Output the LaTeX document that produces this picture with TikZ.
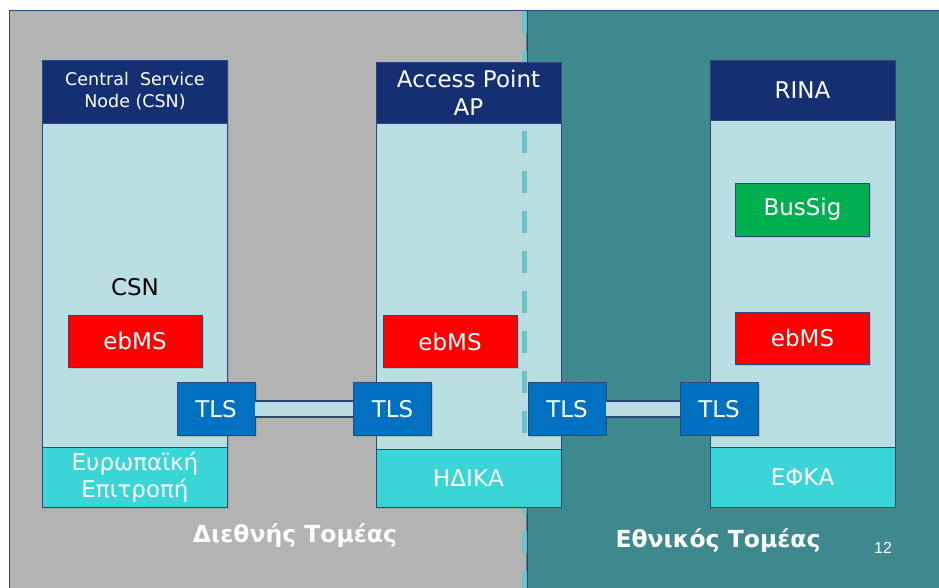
\documentclass[tikz,border=0pt]{standalone}
\usepackage{fontspec}
\setmainfont{DejaVu Sans}
\newfontfamily\numfont{Liberation Sans}
\usetikzlibrary{shadows}
\definecolor{bggray}{RGB}{179,179,179}
\definecolor{bgteal}{RGB}{62,137,142}
\definecolor{navy}{RGB}{20,48,115}
\definecolor{paleblue}{RGB}{185,223,227}
\definecolor{aqua}{RGB}{58,213,214}
\definecolor{tlsblue}{RGB}{0,112,192}
\definecolor{busgreen}{RGB}{0,176,80}
\definecolor{dashteal}{RGB}{108,196,200}
\definecolor{edge}{RGB}{47,70,125}

\begin{document}
\begin{tikzpicture}[x=1pt,y=-1pt]
\tikzset{box/.style={draw=edge,line width=0.9pt,inner sep=0pt,align=center,text=white,font=\fontsize{23}{27}\selectfont},
boxshadow/.style={drop shadow={shadow xshift=1.5pt,shadow yshift=-1.5pt,opacity=0.3}},
head/.style={box,fill=navy,boxshadow,minimum width=185pt},
body/.style={box,fill=paleblue,boxshadow,minimum width=185pt},
foot/.style={box,fill=aqua,boxshadow,minimum width=185pt},
proto/.style={box,boxshadow,minimum width=134pt,minimum height=52pt},
tlsbox/.style={box,fill=tlsblue,boxshadow,minimum width=78pt,minimum height=53pt},
link/.style={draw=edge,line width=1.3pt,double=paleblue,double distance=14.5pt},
sector/.style={text=white,font=\bfseries\fontsize{23.5}{27}\selectfont}}
\useasboundingbox (0,0) rectangle (939,588);
\fill[white] (0,0) rectangle (939,588);

% the two domains
\fill[bggray] (9,11) rectangle (526,588);
\fill[bgteal] (526,11) rectangle (939,588);
\draw[edge,line width=1pt] (9,588) -- (9,11) -- (939,11);
\draw[edge,line width=1pt] (527,11) -- (527,588);

\node[body,minimum height=324pt] (csnbody) at (135,285) {};
\node[body,minimum height=326pt] (apbody) at (468.5,286) {};
\node[body,minimum height=327pt] (rinabody) at (802.5,283.5) {};

\coordinate (divtop) at (524,11);
\coordinate (divbot) at (524,588);
\draw[dashteal,line width=5pt,dash pattern=on 22pt off 18pt] (divtop) -- (divbot);

\node[head,minimum height=63pt,font=\fontsize{17.5}{22}\selectfont] (csnhead) at (135,91.5) {Central\ \ Service\\Node (CSN)};
\node[head,minimum height=61pt,font=\fontsize{23}{28}\selectfont] (aphead) at (468.5,92.5) {Access Point\\AP};
\node[head,minimum height=60pt] (rinahead) at (802.5,90) {RINA};

\node[foot,minimum height=60pt] (csnfoot) at (135,477) {Ευρωπαϊκή\\Επιτροπή};
\node[foot,minimum height=58pt] (apfoot) at (468.5,478) {ΗΔΙΚΑ};
\node[foot,minimum height=60pt] (rinafoot) at (802.5,477) {ΕΦΚΑ};

\node[text=black,font=\fontsize{23}{27}\selectfont] (csnlabel) at (135,287) {CSN};
\node[proto,fill=red] (ebms1) at (135,341) {ebMS};
\node[proto,fill=red] (ebms2) at (450,341.5) {ebMS};
\node[proto,fill=red] (ebms3) at (802.5,338) {ebMS};
\node[proto,fill=busgreen,minimum height=53pt] (bussig) at (802.5,209.5) {BusSig};

\node[tlsbox] (tls1) at (216,409) {TLS};
\node[tlsbox] (tls2) at (392.5,409) {TLS};
\node[tlsbox] (tls3) at (567,409) {TLS};
\node[tlsbox] (tls4) at (719,409) {TLS};
\draw[link] (tls1) -- (tls2);
\draw[link] (tls3) -- (tls4);

\node[sector] (intl) at (295,536) {Διεθνής Τομέας};
\node[sector] (natl) at (718,541) {Εθνικός Τομέας};
\node[text=white,font=\numfont\fontsize{16}{19}\selectfont] (pagenum) at (883,548) {12};
\end{tikzpicture}
\end{document}
